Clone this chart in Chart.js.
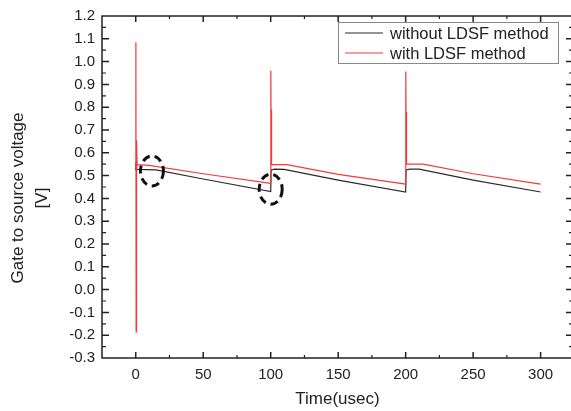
<!DOCTYPE html>
<html><head><meta charset="utf-8">
<script src="https://cdn.jsdelivr.net/npm/chart.js@4.4.1/dist/chart.umd.min.js"></script>
<style>
html,body{margin:0;padding:0;background:#fff;overflow:hidden;}
#wrap{position:relative;width:576px;height:411px;}
</style></head><body>
<div id="wrap"><canvas id="c" width="576" height="411"></canvas></div>
<script>
const seriesLabels = ['without LDSF method', 'with LDSF method'];
const timeWithout = [0, 0.2, 0.5, 0.8, 15, 50, 100, 100.3, 103, 110, 150, 200, 200.3, 203, 210, 250, 300];
const voltWithout = [0.525, 0.56, 0.53, 0.527, 0.525, 0.485, 0.430, 0.525, 0.528, 0.527, 0.480, 0.428, 0.525, 0.528, 0.528, 0.480, 0.428];
const timeWith = [0, 0.1, 0.3, 0.6, 1.0, 10, 50, 100, 100.1, 100.3, 100.5, 100.8, 112, 150, 200, 200.1, 200.3, 200.5, 200.8, 213, 250, 300];
const voltWith = [0.53, 1.085, -0.185, 0.655, 0.548, 0.545, 0.508, 0.466, 0.96, 0.70, 0.79, 0.548, 0.548, 0.505, 0.463, 0.957, 0.70, 0.78, 0.55, 0.55, 0.508, 0.463];
const xTicks = [0, 50, 100, 150, 200, 250, 300];
const yTicks = [-0.3, -0.2, -0.1, 0.0, 0.1, 0.2, 0.3, 0.4, 0.5, 0.6, 0.7, 0.8, 0.9, 1.0, 1.1, 1.2];
const xTitle = 'Time(usec)';
const yTitle = ['Gate to source voltage', '[V]'];
const markerTime = [12, 100];
const markerVolt = [0.52, 0.44];

const FONT = 'Liberation Sans, Arial, Helvetica, sans-serif';
const TXT = '#222';
const colors = ['#2a2a2a', '#f23a3a'];

function zip(xs, ys) { return xs.map((v, i) => ({x: v, y: ys[i]})); }

const decor = {
  id: 'decor',
  afterDatasetsDraw(chart) {
    const {ctx, chartArea: a, scales: {x, y}} = chart;
    ctx.save();
    ctx.strokeStyle = '#222';
    const drawX = (vals, len, w) => {
      ctx.lineWidth = w;
      vals.forEach(v => {
        const px = x.getPixelForValue(v);
        if (px <= a.left + 1 || px >= a.right - 1) return;
        ctx.beginPath();
        ctx.moveTo(px, a.bottom); ctx.lineTo(px, a.bottom - len);
        ctx.moveTo(px, a.top); ctx.lineTo(px, a.top + len);
        ctx.stroke();
      });
    };
    const drawY = (vals, len, w) => {
      ctx.lineWidth = w;
      vals.forEach(v => {
        const py = y.getPixelForValue(v);
        if (py <= a.top + 1 || py >= a.bottom - 1) return;
        ctx.beginPath();
        ctx.moveTo(a.left, py); ctx.lineTo(a.left + len, py);
        ctx.moveTo(a.right, py); ctx.lineTo(a.right - len, py);
        ctx.stroke();
      });
    };
    const mid = arr => {
      const out = [];
      const step = arr[1] - arr[0];
      out.push(arr[0] - step / 2);
      for (let i = 0; i < arr.length - 1; i++) out.push((arr[i] + arr[i + 1]) / 2);
      out.push(arr[arr.length - 1] + step / 2);
      return out;
    };
    drawX(xTicks, 6, 1.5);
    drawX(mid(xTicks), 3, 1.2);
    drawY(yTicks, 7, 1.5);
    drawY(mid(yTicks), 4, 1.2);
    ctx.lineWidth = 1.5;
    ctx.strokeRect(a.left, a.top, a.right - a.left, a.bottom - a.top);

    ctx.lineWidth = 3;
    ctx.strokeStyle = '#111';
    ctx.setLineDash([8, 5]);
    markerTime.forEach((t, i) => {
      const cx = x.getPixelForValue(t), cy = y.getPixelForValue(markerVolt[i]);
      ctx.beginPath();
      ctx.ellipse(cx, cy, 11.5, 15, 0, 0, Math.PI * 2);
      ctx.stroke();
    });
    ctx.setLineDash([]);

    ctx.lineWidth = 1;
    ctx.strokeStyle = '#888';
    ctx.strokeRect(338.5, 22.5, 220, 41);
    ctx.font = '16.5px ' + FONT;
    ctx.textAlign = 'left';
    ctx.textBaseline = 'middle';
    chart.data.datasets.forEach((ds, i) => {
      const ly = 33 + i * 20;
      ctx.strokeStyle = ds.borderColor;
      ctx.lineWidth = 1.2;
      ctx.beginPath(); ctx.moveTo(345, ly); ctx.lineTo(383, ly); ctx.stroke();
      ctx.fillStyle = TXT;
      ctx.fillText(ds.label, 390, ly + 1);
    });

    ctx.fillStyle = TXT;
    ctx.font = '17px ' + FONT;
    ctx.textAlign = 'center';
    ctx.textBaseline = 'middle';
    ctx.translate(0, 198);
    ctx.rotate(-Math.PI / 2);
    ctx.fillText(yTitle[0], 0, 18);
    ctx.fillText(yTitle[1], 0, 42);
    ctx.restore();
  }
};

new Chart(document.getElementById('c'), {
  type: 'line',
  data: {
    datasets: [
      {label: seriesLabels[0], data: zip(timeWithout, voltWithout), borderColor: colors[0], borderWidth: 1.2, pointRadius: 0, tension: 0, fill: false, order: 2},
      {label: seriesLabels[1], data: zip(timeWith, voltWith), borderColor: colors[1], borderWidth: 1.2, pointRadius: 0, tension: 0, fill: false, order: 1}
    ]
  },
  options: {
    responsive: false,
    devicePixelRatio: 1,
    animation: false,
    layout: {padding: {left: 0, right: 3, top: 12, bottom: 0}},
    plugins: {legend: {display: false}, tooltip: {enabled: false}},
    scales: {
      x: {
        type: 'linear', min: -25, max: 324,
        grid: {display: false, drawTicks: false}, border: {display: false},
        afterBuildTicks: s => { s.ticks = xTicks.map(v => ({value: v})); },
        afterFit: s => { s.height = 53; },
        ticks: {autoSkip: false, maxRotation: 0, padding: 8, color: TXT, font: {family: FONT, size: 15}, callback: v => String(v)},
        title: {display: true, text: xTitle, color: TXT, font: {family: FONT, size: 17}, padding: {top: 0, bottom: 1}}
      },
      y: {
        type: 'linear', min: -0.3, max: 1.2,
        grid: {display: false, drawTicks: false}, border: {display: false},
        afterBuildTicks: s => { s.ticks = yTicks.map(v => ({value: v})); },
        afterFit: s => { s.width = 102; },
        ticks: {autoSkip: false, padding: 7, color: TXT, font: {family: FONT, size: 15}, callback: v => Number(v).toFixed(1)}
      }
    }
  },
  plugins: [decor]
});
</script>
</body></html>
